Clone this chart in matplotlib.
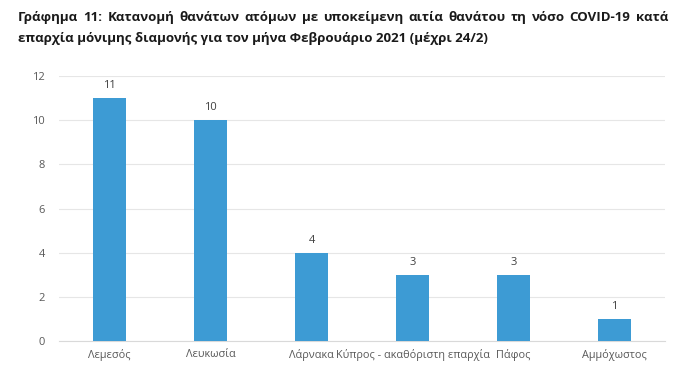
import matplotlib
matplotlib.use("Agg")
import matplotlib.pyplot as plt

categories = ["Λεμεσός", "Λευκωσία", "Λάρνακα", "Κύπρος - ακαθόριστη επαρχία", "Πάφος", "Αμμόχωστος"]
values = [11, 10, 4, 3, 3, 1]
title_line1 = "Γράφημα 11: Κατανομή θανάτων ατόμων με υποκείμενη αιτία θανάτου τη νόσο COVID-19 κατά"
title_line2 = "επαρχία μόνιμης διαμονής για τον μήνα Φεβρουάριο 2021 (μέχρι 24/2)"

plt.rcParams['font.family'] = ['Open Sans', 'DejaVu Sans']

fig = plt.figure(figsize=(6.87, 3.89), dpi=100)
ax = fig.add_axes([0.086, 0.123, 0.882, 0.682])

x = range(len(categories))
ax.bar(x, values, width=0.32, color="#3D9BD4", zorder=3)
for xi, v in zip(x, values):
    ax.text(xi, v + 0.3, str(v), ha="center", va="bottom", fontsize=8, color="#404040")

ax.set_xlim(-0.5, len(categories) - 0.5)
ax.set_ylim(0, 12)
ax.set_yticks(range(0, 13, 2))
ax.set_xticks(list(x))
ax.set_xticklabels(categories, fontsize=7.8, color="#595959")
ax.tick_params(axis="y", labelsize=8, colors="#595959", length=0, pad=10)
ax.tick_params(axis="x", length=0, pad=6)
ax.grid(axis="y", color="#E6E6E6", linewidth=0.8, zorder=0)
for s in ["top", "right", "left"]:
    ax.spines[s].set_visible(False)
ax.spines["bottom"].set_color("#D9D9D9")

# justified first title line
fs = 9.5
left_px, right_px = 18, 668
W = fig.get_figwidth() * fig.dpi
renderer = fig.canvas.get_renderer()
words = title_line1.split(" ")
texts = []
widths = []
for w in words:
    t = fig.text(0, 0.955, w, fontsize=fs, fontweight="bold", color="#1a1a1a", va="center")
    bb = t.get_window_extent(renderer=renderer)
    texts.append(t)
    widths.append(bb.width)
gap = (right_px - left_px - sum(widths)) / (len(words) - 1)
pos = left_px
for t, wd in zip(texts, widths):
    t.set_x(pos / W)
    pos += wd + gap

fig.text(left_px / W, 0.9, title_line2,
         fontsize=fs, fontweight="bold", color="#1a1a1a", va="center")

fig.savefig("out.png", dpi=100)
